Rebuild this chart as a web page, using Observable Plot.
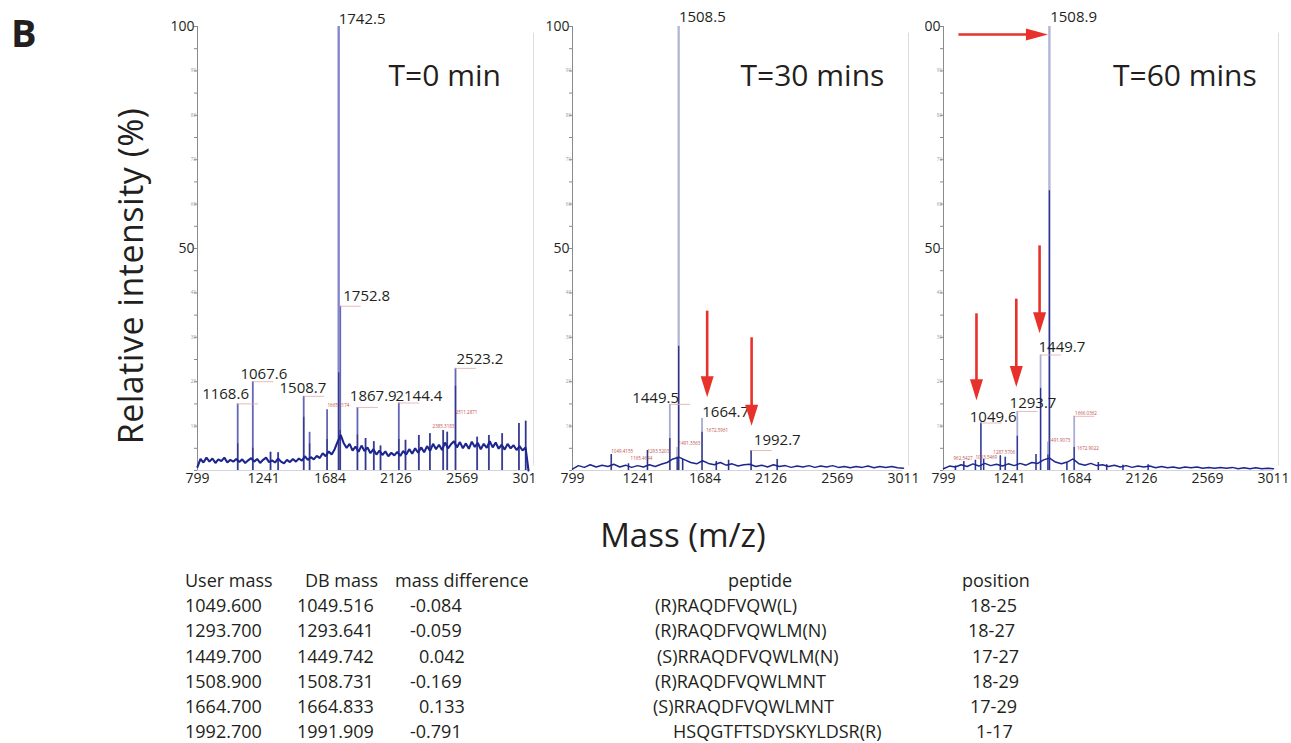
<!DOCTYPE html>
<html><head><meta charset="utf-8">
<script src="https://cdn.jsdelivr.net/npm/d3@7"></script>
<script src="https://cdn.jsdelivr.net/npm/@observablehq/plot@0.6"></script>
<style>
body{margin:0;background:#fff;font-family:"Open Sans",sans-serif;color:#231f20}
#root{position:relative;width:1291px;height:743px;overflow:hidden;background:#fff}
.abs{position:absolute;white-space:nowrap;line-height:1}
.panel{position:absolute;top:0}
</style></head><body><div id="root"></div>
<script>
// ---------- data ----------
const xTicks = [799, 1241, 1684, 2126, 2569, 3011];
const yMajor = [50, 100];
const yMinorLabels = [10, 20, 30, 40, 60, 70, 80, 90];
const yMinor = [0, 5, 10, 15, 20, 25, 30, 35, 40, 45, 50, 55, 60, 65, 70, 75, 80, 85, 90, 95, 100];
const titles = ["T=0 min", "T=30 mins", "T=60 mins"];

// [mass, outer (light) intensity, inner (dark) intensity]
const peaks1 = [
  [1067.6, 15.0, 6.0], [1168.6, 20.0, 5.0], [1287, 4.1, 4.1], [1338, 4.0, 4.0],
  [1508.7, 16.7, 12.0], [1548, 8.6, 6.0], [1665, 13.7, 7.0], [1742.5, 100, 22],
  [1752.8, 37, 9], [1867.9, 14.2, 8], [1922, 7.2, 7.2], [1977, 6.5, 6.5],
  [2022, 5.5, 5.5], [2144.4, 15.2, 7], [2189, 6.8, 6.8], [2278, 7.9, 7.9],
  [2352, 8.3, 8.3], [2441, 9.0, 9.0], [2468, 8.6, 8.6], [2523.2, 23, 19],
  [2668, 7.5, 7.5], [2746, 7.9, 7.9], [2835, 8.3, 8.3], [2947, 10.6, 10.6], [2992, 11.1, 11.1]
];
const peaks2 = [
  [1058, 3.6, 3.6], [1173, 1.5, 1.5], [1300, 4.5, 4.5], [1449.5, 14.9, 7.2],
  [1499, 5.2, 3.0], [1508.5, 100, 28], [1535, 2.5, 2.5], [1664.7, 11.7, 8.6],
  [1760, 2.0, 2.0], [1842, 2.3, 2.3], [1992.7, 4.5, 4.5], [2167, 2.5, 2.5]
];
const peaks3 = [
  [879, 1.0, 1.0], [935, 2.0, 2.0], [1013, 2.3, 2.3], [1049.6, 10.7, 10.7],
  [1068, 2.5, 2.5], [1180, 3.3, 3.3], [1213, 3.0, 3.0], [1293.7, 13.3, 7.7],
  [1419, 3.6, 3.6], [1449.7, 26, 18.5], [1499, 6.4, 3.5], [1508.9, 100, 63],
  [1626, 1.8, 1.8], [1675, 12.2, 5.2], [1837, 1.8, 1.8], [1893, 1.3, 1.3],
  [2002, 1.2, 1.2], [2171, 1.3, 1.3]
];

// baseline noise, read left to right (evenly spaced from 799 to 3011)
const noise1 = [0.8,2.6,1.8,2.9,2.0,2.7,1.7,2.5,2.1,2.9,1.8,2.4,2.0,2.6,1.9,2.5,1.7,2.3,2.8,2.0,
  2.6,1.7,2.4,2.9,1.9,2.3,1.8,2.7,2.0,1.6,2.4,1.9,2.6,2.0,2.7,2.2,3.2,2.4,3.0,2.5,
  3.3,2.8,3.9,3.2,4.3,3.6,4.8,6.5,8.0,6.2,5.1,6.0,4.5,5.4,4.2,5.6,4.4,5.2,3.9,4.8,
  3.6,4.5,3.5,4.3,3.2,4.0,3.4,4.2,3.3,4.4,3.6,4.8,3.8,5.0,4.0,5.2,4.1,5.5,4.4,6.0,
  4.8,5.8,4.6,6.3,5.0,5.9,6.6,5.2,6.4,5.0,6.1,4.9,6.5,5.3,6.2,4.8,6.0,5.1,6.6,5.2,
  6.3,4.9,5.8,4.7,6.0,5.0,5.7,4.6,5.5,4.5,5.2,0];
const noise2 = [0.3,1.1,0.7,1.3,0.8,1.2,0.9,1.4,0.8,1.2,0.7,1.1,0.8,1.3,0.9,1.4,1.8,2.6,3.0,2.4,
  1.8,1.5,2.2,1.6,1.3,1.8,1.2,1.5,1.0,1.3,1.4,0.9,1.2,0.8,1.3,0.9,1.1,0.7,1.0,0.8,
  1.1,0.7,1.0,0.8,1.1,0.7,0.9,0.6,0.9,0.7,1.0,0.6,0.9,0.7,0.9,0.6,0.5];
const noise3 = [0.4,1.0,0.8,1.3,0.9,1.5,1.0,1.6,1.1,1.4,1.0,1.5,1.1,1.6,1.2,1.8,1.6,2.4,2.8,1.9,
  1.5,1.9,2.6,1.5,1.2,1.6,1.1,1.3,0.9,1.2,0.8,1.1,0.7,1.0,0.8,1.0,0.6,0.9,0.6,0.8,
  0.5,0.8,0.6,0.8,0.5,0.7,0.5,0.7,0.5,0.7,0.4,0.6,0.4,0.6,0.4,0.5,0.4];

// peak annotations: [text, mass where text starts, intensity at text middle]
const labels1 = [["1742.5",1742.5,101.6],["1752.8",1773,39.2],["1168.6",830,17.3],["1067.6",1086,21.8],
  ["1508.7",1347,18.5],["1867.9",1817,16.7],["2144.4",2122,16.7],["2523.2",2530,25]];
const labels2 = [["1508.5",1510,102],["1449.5",1198,16.2],["1664.7",1666,13.1],["1992.7",2011,6.8]];
const labels3 = [["1508.9",1514,102],["1449.7",1436,27.7],["1293.7",1242,15.1],["1049.6",975,12]];

const tiny1 = [["1665.2174",1668,14.6],["2385.3183",2370,10],["2511.2871",2524,13]];
const tiny2 = [["1049.4155",1058,4.3],["1165.4644",1187,2.7],["1293.5203",1300,4.3],["1491.3563",1508,6.1],["1672.5961",1693,9]];
const tiny3 = [["962.5427",866,2.7],["1053.5469",1013,2.9],["1287.5706",1133,4.1],["1491.9073",1503,6.8],["1666.0362",1681,12.8],["1672.9022",1694,5]];

// leader ticks at annotated peak tops: [mass, intensity]
const leaders1 = [[1067.6,15],[1168.6,20],[1508.7,16.7],[1752.8,37],[1867.9,14.2],[2144.4,15.2],[2523.2,23]];
const leaders2 = [[1449.5,14.9],[1992.7,4.5]];
const leaders3 = [[1049.6,10.7],[1293.7,13.3],[1449.7,26],[1675,12.2]];

// titles: [mass where text starts, intensity]
const titlePos = [[2076,88.7],[1922,88.7],[1935,88.7]];

// red arrows: vertical [mass, from, to]; horizontal [intensity, fromMass, toMass]
const arrowsV2 = [[1699,36,16.5],[1996,30,10.1]];
const arrowsV3 = [[1020,35.4,15.8],[1287,38.7,18.8],[1443,50.7,30.9]];
const arrowsH3 = [[98.2,899,1499]];

// table
const tableHeader = ["User mass","DB mass","mass difference","peptide","position"];
const userMass = ["1049.600","1293.700","1449.700","1508.900","1664.700","1992.700"];
const dbMass = ["1049.516","1293.641","1449.742","1508.731","1664.833","1991.909"];
const massDiff = ["-0.084","-0.059","0.042","-0.169","0.133","-0.791"];
const peptide = ["(R)RAQDFVQW(L)","(R)RAQDFVQWLM(N)","(S)RRAQDFVQWLM(N)","(R)RAQDFVQWLMNT","(S)RRAQDFVQWLMNT","HSQGTFTSDYSKYLDSR(R)"];
const position = ["18-25","18-27","17-27","18-29","17-29","1-17"];

// ---------- drawing ----------
const RED = "#e8312b";
const INK = "#231f20";
const downHead = {draw(c){ c.moveTo(0,0); c.lineTo(-6.5,-21); c.lineTo(6.5,-21); c.closePath(); }};
const rightHead = {draw(c){ c.moveTo(0,0); c.lineTo(-22,-6); c.lineTo(-22,6); c.closePath(); }};

function toPeaks(a){ return a.map(([m, light, dark]) => ({m, light, dark})); }
function toText(a){ return a.map(([t, m, v]) => ({t, m, v})); }

function panel(cfg){
  const peaks = toPeaks(cfg.peaks);
  const n = cfg.noise.length;
  const noise = cfg.noise.map((v, i) => ({m: 799 + i * (3011 - 799) / (n - 1), v}));
  const leaders = cfg.leaders.map(([m, v]) => ({m, v}));
  const marks = [
    Plot.ruleY([0], {stroke: "#d4d4de"}),
    Plot.ruleX([3011], {dx: 5, y1: 1, y2: 98.5, stroke: "#dcdcdc"}),
    Plot.ruleX([799], {y1: 0, y2: 100, stroke: "#8a8a8a"}),
    Plot.axisY({ticks: yMinor, tickSize: 3, tickFormat: () => "", stroke: "#8a8a8a", label: null}),
    Plot.axisY({ticks: yMinorLabels, tickSize: 0, tickPadding: 1.5, fontSize: 4.5, color: "#9a9a9a", label: null}),
    Plot.axisY({ticks: yMajor, tickSize: 0, tickPadding: 3, fontSize: 14, color: INK, label: null}),
    Plot.axisX({ticks: xTicks, tickSize: 0, tickPadding: 3, fontSize: 14, color: INK, tickFormat: d => String(d), label: null}),
    Plot.ruleX(peaks.filter(d => d.light <= 50), {x: "m", y1: 0, y2: "light", stroke: cfg.light, strokeWidth: 1.8}),
    Plot.ruleX(peaks.filter(d => d.light > 50), {x: "m", y1: 0, y2: "light", stroke: cfg.main, strokeWidth: 2.4}),
    Plot.ruleX(peaks, {x: "m", y1: 0, y2: "dark", stroke: cfg.dark, strokeWidth: 1.3}),
    Plot.line(noise, {x: "m", y: "v", stroke: "#1d268e", strokeWidth: cfg.noiseWidth, strokeLinejoin: "miter"}),
    Plot.ruleY(leaders, {y: "v", x1: "m", x2: d => d.m + 140, stroke: "#e2a8a8", strokeWidth: 0.8}),
    Plot.text(toText(cfg.tiny), {x: "m", y: "v", text: "t", fontSize: 4.5, fill: "#c0504d", textAnchor: "start"}),
    Plot.text(toText(cfg.labels), {x: "m", y: "v", text: "t", fontSize: 15, fill: INK, textAnchor: "start"}),
    Plot.text([{t: cfg.title, m: cfg.titlePos[0], v: cfg.titlePos[1]}], {x: "m", y: "v", text: "t", fontSize: 30, fill: INK, textAnchor: "start"})
  ];
  if (cfg.arrowsV) {
    const av = cfg.arrowsV.map(([m, from, to]) => ({m, from, to}));
    marks.push(Plot.arrow(av, {x1: "m", x2: "m", y1: "from", y2: "to", stroke: RED, strokeWidth: 2.6, headLength: 0, insetEnd: 12, strokeLinecap: "butt"}));
    marks.push(Plot.dot(av, {x: "m", y: "to", symbol: downHead, r: 5, fill: RED, stroke: "none"}));
  }
  if (cfg.arrowsH) {
    const ah = cfg.arrowsH.map(([v, from, to]) => ({v, from, to}));
    marks.push(Plot.arrow(ah, {x1: "from", x2: "to", y1: "v", y2: "v", stroke: RED, strokeWidth: 2.6, headLength: 0, insetEnd: 12, strokeLinecap: "butt"}));
    marks.push(Plot.dot(ah, {x: "to", y: "v", symbol: rightHead, r: 5, fill: RED, stroke: "none"}));
  }
  const svg = Plot.plot({
    width: cfg.width, height: 495,
    marginLeft: cfg.ml, marginRight: cfg.mr, marginTop: 26, marginBottom: 25,
    x: {domain: [799, 3011]}, y: {domain: [0, 100]},
    style: {fontFamily: "Open Sans", background: "white", overflow: "hidden", maxWidth: "none"},
    marks
  });
  const div = document.createElement("div");
  div.className = "panel";
  div.style.left = cfg.left + "px";
  div.style.width = cfg.width + "px";
  div.style.zIndex = cfg.z;
  div.appendChild(svg);
  return div;
}

const root = document.getElementById("root");
root.appendChild(panel({left: 160, width: 375, ml: 37, mr: 7, z: 1, peaks: peaks1, noise: noise1, labels: labels1, tiny: tiny1, leaders: leaders1,
  title: titles[0], titlePos: titlePos[0], light: "#6466b6", main: "#8587cc", dark: "#33378a", noiseWidth: 2.1}));
root.appendChild(panel({left: 535, width: 390, ml: 37, mr: 22, z: 2, peaks: peaks2, noise: noise2, labels: labels2, tiny: tiny2, leaders: leaders2,
  title: titles[1], titlePos: titlePos[1], light: "#a6aad1", main: "#b6b9d6", dark: "#2d3180", arrowsV: arrowsV2, noiseWidth: 1.5}));
root.appendChild(panel({left: 925, width: 366, ml: 18, mr: 18, z: 3, peaks: peaks3, noise: noise3, labels: labels3, tiny: tiny3, leaders: leaders3,
  title: titles[2], titlePos: titlePos[2], light: "#a9add4", main: "#b2b5d7", dark: "#2a3396", arrowsV: arrowsV3, arrowsH: arrowsH3, noiseWidth: 1.5}));

function addText(txt, left, cy, fs, extra){
  const d = document.createElement("div");
  d.className = "abs";
  d.textContent = txt;
  d.style.left = left + "px";
  d.style.top = (cy - 0.531 * fs) + "px";
  d.style.fontSize = fs + "px";
  d.style.zIndex = 5;
  if (extra) Object.assign(d.style, extra);
  root.appendChild(d);
  return d;
}
addText("B", 11, 33.5, 38, {fontWeight: "700"});
const yl = addText("Relative intensity (%)", 131, 276, 34, {letterSpacing: "0.5px"});
yl.style.top = "276px";
yl.style.left = "130px";
yl.style.transform = "translate(-50%,-50%) rotate(-90deg)";
addText("Mass (m/z)", 683, 536, 33, {transform: "translateX(-50%)"});

const fsT = 18;
const rowY = [606, 631, 656.5, 682, 707, 732];
const headLeft = [185, 305, 395, 728, 962];
tableHeader.forEach((h, i) => addText(h, headLeft[i], 581, fsT));
const pepLeft = [655, 655, 657, 655, 653, 673];
const posLeft = [970, 968, 972, 972, 970, 976];
rowY.forEach((y, r) => {
  addText(userMass[r], 185, y, fsT);
  addText(dbMass[r], 297, y, fsT);
  addText(massDiff[r], massDiff[r].startsWith("-") ? 410 : 419, y, fsT);
  addText(peptide[r], pepLeft[r], y, fsT);
  addText(position[r], posLeft[r], y, fsT);
});
</script></body></html>
